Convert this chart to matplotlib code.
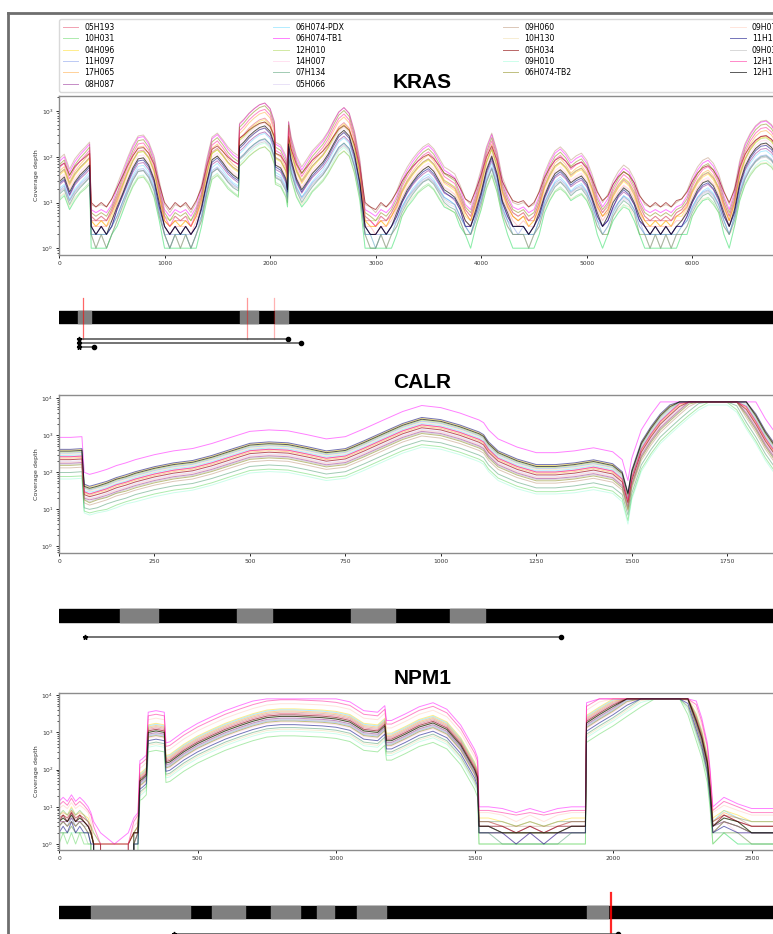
import numpy as np
import matplotlib
matplotlib.use("Agg")
import matplotlib.pyplot as plt
from matplotlib.lines import Line2D
from matplotlib.ticker import MultipleLocator

# samples, in legend order
samples = ["05H193", "10H031", "04H096", "11H097", "17H065", "08H087",
           "06H074-PDX", "06H074-TB1", "12H010", "14H007", "07H134", "05H066",
           "09H060", "10H130", "05H034", "09H010", "06H074-TB2",
           "09H070", "11H103", "09H035", "12H104", "12H131"]
colors = ["crimson", "limegreen", "gold", "royalblue", "darkorange", "purple",
          "deepskyblue", "magenta", "yellowgreen", "hotpink", "seagreen", "mediumpurple",
          "saddlebrown", "goldenrod", "darkred", "mediumspringgreen", "olive",
          "coral", "navy", "gray", "deeppink", "black"]
alphas = [0.4, 0.4, 0.45, 0.35, 0.4, 0.45, 0.3, 0.5, 0.45, 0.2, 0.45, 0.2,
          0.3, 0.2, 0.6, 0.2, 0.5, 0.2, 0.55, 0.3, 0.5, 0.65]

MAX_DEPTH = 8000  # pileup depth cap

# KRAS: typical depth along the amplicon
kras_pos = [0, 50, 100, 150, 200, 250, 290, 305, 350, 400, 450, 500, 550, 600, 650, 700, 750, 800,
            850, 900, 950, 1000, 1050, 1100, 1150, 1200, 1250, 1300, 1350, 1400, 1450, 1500, 1550,
            1600, 1650, 1700, 1710, 1750, 1800, 1850, 1900, 1950, 2000, 2040, 2050, 2100, 2150, 2165,
            2175, 2200, 2250, 2300, 2350, 2400, 2450, 2500, 2550, 2600, 2650, 2700, 2750, 2800, 2850,
            2900, 2950, 3000, 3050, 3100, 3150, 3200, 3250, 3300, 3350, 3400, 3450, 3500, 3550, 3600,
            3650, 3700, 3750, 3800, 3850, 3900, 3950, 4000, 4050, 4100, 4150, 4200, 4250, 4300, 4350,
            4400, 4450, 4500, 4550, 4600, 4650, 4700, 4750, 4800, 4850, 4900, 4950, 5000, 5050, 5100,
            5150, 5200, 5250, 5300, 5350, 5400, 5450, 5500, 5550, 5600, 5650, 5700, 5750, 5800, 5850,
            5900, 5950, 6000, 6050, 6100, 6150, 6200, 6250, 6300, 6350, 6400, 6450, 6500, 6550, 6600,
            6650, 6700, 6750, 6800, 6850, 6890]
kras_depth = [30, 38, 18, 30, 42, 55, 70, 3, 2.5, 3, 2.5, 4, 8, 16, 32, 60, 95, 100,
              70, 35, 10, 3, 2, 3, 2.5, 3, 2, 3.5, 8, 30, 90, 110, 80,
              55, 42, 35, 180, 220, 300, 380, 460, 500, 380, 200, 70, 60, 35, 20,
              200, 90, 35, 20, 30, 45, 60, 80, 120, 200, 320, 400, 300, 120, 30,
              3, 2.5, 2, 3, 2.5, 3.5, 6, 12, 20, 30, 42, 55, 65, 50, 32,
              20, 17, 14, 8, 4, 3, 7, 18, 55, 110, 45, 12, 6, 3.5, 3,
              3.5, 2.5, 3, 6, 15, 28, 45, 55, 42, 28, 35, 40, 28, 14, 6,
              3.5, 5, 10, 16, 22, 18, 11, 5, 3, 2.5, 3, 2.5, 3, 2.5, 3.5,
              4, 6, 12, 20, 28, 32, 24, 14, 6, 3, 7, 28, 65, 110, 160,
              200, 210, 170, 110, 60, 35]
kras_scale = [1.4, 0.45, 1.3, 0.8, 1.3, 0.9, 0.65, 2.2, 1.9, 1.1, 0.5, 0.6,
              3.0, 0.55, 4.0, 0.4, 1.8, 1.2, 0.85, 0.8, 1.6, 0.95]
kras_gamma = [1.0, 0.95, 1.0, 0.92, 1.06, 0.96, 1.0, 1.05, 0.92, 1.0, 1.0, 0.96,
              1.0, 0.92, 0.8, 1.0, 1.06, 0.95, 1.0, 0.9, 1.05, 1.0]

# CALR
calr_pos = [0, 30, 60, 66, 80, 100, 125, 150, 175, 200, 250, 300, 350, 400, 450, 500, 550, 600,
            650, 700, 750, 800, 850, 900, 950, 1000, 1050, 1100, 1112, 1125, 1150, 1200, 1250,
            1300, 1350, 1400, 1450, 1475, 1490, 1500, 1525, 1550, 1575, 1600, 1625, 1650, 1675,
            1700, 1750, 1775, 1800, 1825, 1850, 1875, 1904]
calr_depth = [220, 220, 230, 25, 22, 25, 30, 38, 45, 55, 75, 95, 110, 150, 220, 320, 350, 330,
              260, 200, 230, 380, 650, 1100, 1600, 1400, 1000, 650, 550, 350, 200, 120, 85,
              85, 95, 115, 90, 55, 15, 60, 350, 900, 2000, 3500, 6000, 10000, 16000,
              22000, 22000, 14000, 5000, 2000, 700, 300, 150]
calr_scale = [1.2, 0.35, 1.8, 1.5, 1.1, 0.8, 1.3, 4.0, 1.6, 1.0, 0.45, 0.9,
              0.6, 1.4, 1.0, 0.3, 0.7, 0.85, 1.9, 0.75, 1.2, 1.7]

# NPM1
npm1_pos = [0, 15, 30, 45, 60, 75, 90, 105, 115, 125, 150, 200, 250, 270, 285, 292, 300, 315,
            322, 350, 380, 386, 400, 450, 500, 550, 600, 650, 700, 750, 800, 850, 900, 950,
            1000, 1050, 1100, 1150, 1176, 1182, 1200, 1250, 1300, 1350, 1400, 1450, 1500, 1511,
            1516, 1550, 1600, 1650, 1700, 1750, 1800, 1850, 1900, 1904, 1950, 2000, 2050, 2100,
            2150, 2200, 2240, 2270, 2300, 2320, 2340, 2350, 2360, 2400, 2450, 2500, 2550, 2624]
npm1_depth = [4, 5, 4, 6, 4, 5, 4, 3, 2, 1, 0.5, 0.4, 0.5, 1.5, 2, 50, 55, 70,
              1000, 1100, 1000, 150, 160, 300, 500, 750, 1100, 1500, 2000, 2500, 2700, 2700, 2600, 2500,
              2300, 1900, 1100, 1000, 1500, 600, 600, 900, 1400, 1800, 1200, 450, 100, 60,
              3, 3, 2.5, 2, 2.5, 2, 2.5, 3, 3, 1800, 3000, 5000, 9000, 16000,
              28000, 32000, 28000, 10000, 2000, 700, 150, 30, 3, 5, 3.5, 2.5, 2.5, 2.5]
npm1_scale = [1.2, 0.3, 1.6, 0.8, 1.4, 0.9, 1.5, 3.5, 1.0, 0.7, 0.5, 1.1,
              1.3, 0.45, 1.1, 0.4, 0.75, 2.2, 0.6, 0.85, 2.8, 1.0]

# exon layout (grey blocks), variants (red) and read spans under each gene
kras_grey = [(179, 305), (1716, 1884), (2044, 2174)]
kras_variants = [225, 1781, 2034]
kras_spans = [(189, 2165), (189, 2291), (189, 329)]
calr_grey = [(159, 260), (465, 558), (766, 879), (1023, 1115)]
calr_variants = []
calr_spans = [(69, 1314)]
npm1_grey = [(116, 474), (552, 671), (764, 871), (933, 992), (1077, 1179), (1905, 1980)]
npm1_variants = [1994]
npm1_spans = [(414, 2017)]

W, H = 773, 934
fig = plt.figure(figsize=(W / 100, H / 100), dpi=100)


def box(left, top, width, height):
    return [left / W, 1 - (top + height) / H, width / W, height / H]


def coverage(top, height, pos, depth, scale, gamma, xmax, ylim, step, title, pad):
    ax = fig.add_axes(box(59, top, 727, height))
    d = np.asarray(depth, dtype=float)
    for i, name in enumerate(samples):
        y = np.minimum(np.round(scale[i] * d ** gamma[i]), MAX_DEPTH)
        ax.plot(pos, y, color=colors[i], alpha=alphas[i], lw=0.7, label=name)
    ax.set_yscale("log")
    ax.set_xlim(0, xmax)
    ax.set_ylim(*ylim)
    ax.xaxis.set_major_locator(MultipleLocator(step))
    ax.tick_params(labelsize=4.3, length=2.5, width=0.6, pad=1.5, labelcolor="0.2")
    ax.tick_params(which="minor", length=1.5, width=0.5)
    ax.set_ylabel("Coverage depth", fontsize=4.6, labelpad=2, color="0.2")
    for s in ax.spines.values():
        s.set_color("0.55")
        s.set_linewidth(1.0)
    ax.set_title(title, fontsize=15, fontweight="bold", family="Liberation Sans", pad=pad)
    ax.title.set_zorder(10)
    return ax


def structure(bar_top, xmax, grey, variants, var_alpha, var_lw, spans):
    ax = fig.add_axes(box(59, bar_top - 20, 727, 60))
    ax.set_xlim(0, xmax)
    ax.set_ylim(40, -20)
    ax.axis("off")
    ax.broken_barh([(0, xmax)], (0, 12.5), color="black")
    ax.broken_barh([(s, e - s) for s, e in grey], (0, 12.5), color="#808080")
    for x, a, w in zip(variants, var_alpha, var_lw):
        ax.plot([x, x], [-13, 28], color="red", alpha=a, lw=w)
    for i, (s, e) in enumerate(spans):
        y = 28 + 4 * i
        ax.plot([s, e], [y, y], color="0.3", lw=1.1)
        ax.plot(s, y, marker="*", color="black", ms=3.5)
        ax.plot(e, y, marker="o", color="black", ms=3)


ax_k = coverage(96, 159, kras_pos, kras_depth, kras_scale, kras_gamma, 6888,
                (0.71, 2140), 1000, "KRAS", 5.8)
leg = ax_k.legend(loc="lower left", bbox_to_anchor=(0, 1 + 4 / 159, 1, 0.3), mode="expand",
                  ncol=4, fontsize=5.6, labelspacing=0.3, borderaxespad=0, borderpad=0.45,
                  handlelength=2.0, handletextpad=0.8, framealpha=1, edgecolor="0.85")
leg.set_zorder(5)
structure(311, 6888, kras_grey, kras_variants, [0.6, 0.4, 0.3], [0.9, 0.9, 0.9], kras_spans)

ones = [1] * len(samples)
coverage(395, 158, calr_pos, calr_depth, calr_scale, ones, 1904,
         (0.66, 12300), 250, "CALR", 4.7)
structure(609.3, 1904, calr_grey, calr_variants, [], [], calr_spans)

coverage(693, 157, npm1_pos, npm1_depth, npm1_scale, ones, 2624,
         (0.69, 11500), 500, "NPM1", 6.3)
structure(905.7, 2624, npm1_grey, npm1_variants, [0.85], [1.6], npm1_spans)

# grey frame along the top and left
fig.add_artist(Line2D([8 / W, 1], [1 - 13 / H, 1 - 13 / H], transform=fig.transFigure,
                      color="#6e6e6e", lw=2))
fig.add_artist(Line2D([8 / W, 8 / W], [0, 1 - 13 / H], transform=fig.transFigure,
                      color="#6e6e6e", lw=2))

fig.savefig("out.png", dpi=100, facecolor="white")
